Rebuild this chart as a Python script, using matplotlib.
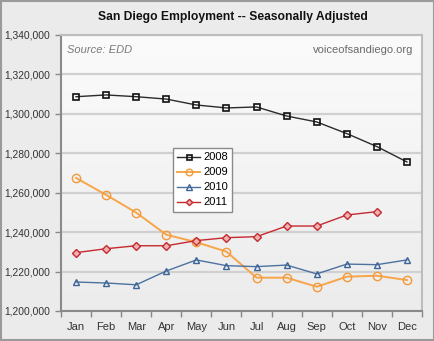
import numpy as np
import matplotlib
matplotlib.use("Agg")
import matplotlib.pyplot as plt
from matplotlib.patches import Rectangle
from matplotlib.ticker import FuncFormatter

plt.rcParams['font.family'] = ['Liberation Sans', 'DejaVu Sans']

months = ["Jan", "Feb", "Mar", "Apr", "May", "Jun", "Jul", "Aug", "Sep", "Oct", "Nov", "Dec"]
emp_2008 = [1308700, 1309600, 1308700, 1307500, 1304500, 1303000, 1303500, 1298900, 1295900, 1290000, 1283400, 1275600]
emp_2009 = [1267500, 1258900, 1249900, 1238700, 1234900, 1230100, 1216900, 1216900, 1212300, 1217400, 1217900, 1215700]
emp_2010 = [1214700, 1214200, 1213300, 1220300, 1225900, 1223000, 1222500, 1223300, 1218800, 1223800, 1223500, 1225900]
emp_2011 = [1229600, 1231600, 1233100, 1233100, 1235700, 1237200, 1237700, 1243100, 1243100, 1248700, 1250400]

W, H = 435, 341
fig = plt.figure(figsize=(W / 100, H / 100), dpi=100)
fig.patch.set_facecolor('#ebebeb')
fig.patches.append(Rectangle((0.002, 0.003), 0.995, 0.994, transform=fig.transFigure,
                             fill=False, edgecolor='#9a9a9a', linewidth=1.5))

# plot area in pixels: x 61..422, y 35..311
ax = fig.add_axes([61 / W, 1 - 311 / H, (422 - 61) / W, (311 - 35) / H])

# background gradient
grad = np.linspace(0, 1, 256).reshape(-1, 1)
ax.imshow(grad, extent=[-0.5, 11.5, 1200000, 1340000], aspect='auto',
          cmap=matplotlib.colors.LinearSegmentedColormap.from_list('bg', ['#ececec', '#fbfbfb']),
          origin='lower', zorder=0)

x = np.arange(len(months))
ax.plot(x, emp_2008, color='#2b2b2b', lw=1.0, marker='s', ms=4.5, mfc='none', mec='#111111', mew=1.2, label='2008', zorder=5)
ax.plot(x, emp_2009, color='#f7a54a', lw=1.4, marker='o', ms=6, mfc='none', mec='#f39a3a', mew=1.0, label='2009', zorder=5)
ax.plot(x, emp_2010, color='#4c72a0', lw=1.0, marker='^', ms=5, mfc='none', mec='#3e6596', mew=1.0, label='2010', zorder=5)
ax.plot(x[:len(emp_2011)], emp_2011, color='#c42a30', lw=1.0, marker='D', ms=4, mfc='#f2b0b0', mec='#c42a30', mew=1.0, label='2011', zorder=5)

ax.set_xlim(-0.5, 11.5)
ax.set_ylim(1200000, 1340000)
ax.set_yticks(np.arange(1200000, 1340001, 20000))
ax.yaxis.set_major_formatter(FuncFormatter(lambda v, p: f"{int(v):,}"))
ax.set_xticks(x)
ax.set_xticklabels(months)
ax.set_xticks(np.arange(-0.5, 12, 1), minor=True)
ax.tick_params(axis='x', which='major', length=0, pad=8, labelsize=8, labelcolor='#333333')
ax.tick_params(axis='x', which='minor', length=4, color='#888888', width=1, direction='out')
ax.tick_params(axis='y', length=4, color='#888888', width=1, pad=4, labelsize=7.4, labelcolor='#333333')

ax.grid(axis='y', color='#d0d0d0', lw=1.6, zorder=1)
ax.set_axisbelow(True)
for side in ['top', 'right']:
    ax.spines[side].set_color('#bdbdbd')
    ax.spines[side].set_linewidth(1.5)
for side in ['left', 'bottom']:
    ax.spines[side].set_color('#8a8a8a')
    ax.spines[side].set_linewidth(1.5)

ax.text(0.018, 0.965, "Source: EDD", transform=ax.transAxes, ha='left', va='top',
        fontsize=8, style='italic', color='#7a7a7a')
ax.text(0.975, 0.965, "voiceofsandiego.org", transform=ax.transAxes, ha='right', va='top',
        fontsize=8, color='#6a6a6a')

fig.text(233 / W, 1 - 17 / H, "San Diego Employment -- Seasonally Adjusted", ha='center', va='center',
         fontsize=8.7, fontweight='bold', color='#111111')

leg = ax.legend(loc='upper left', bbox_to_anchor=((173 - 61) / 361, (311 - 148) / 276),
                fontsize=8, frameon=True, fancybox=False, handlelength=2.0, handletextpad=0.3,
                borderpad=0.4, labelspacing=0.45, borderaxespad=0, markerscale=0.8)
leg.get_frame().set_edgecolor('#8a8a8a')
leg.get_frame().set_facecolor('white')
leg.get_frame().set_linewidth(1.0)
leg.get_frame().set_alpha(1)

fig.savefig('out.png', dpi=100, facecolor=fig.get_facecolor())
